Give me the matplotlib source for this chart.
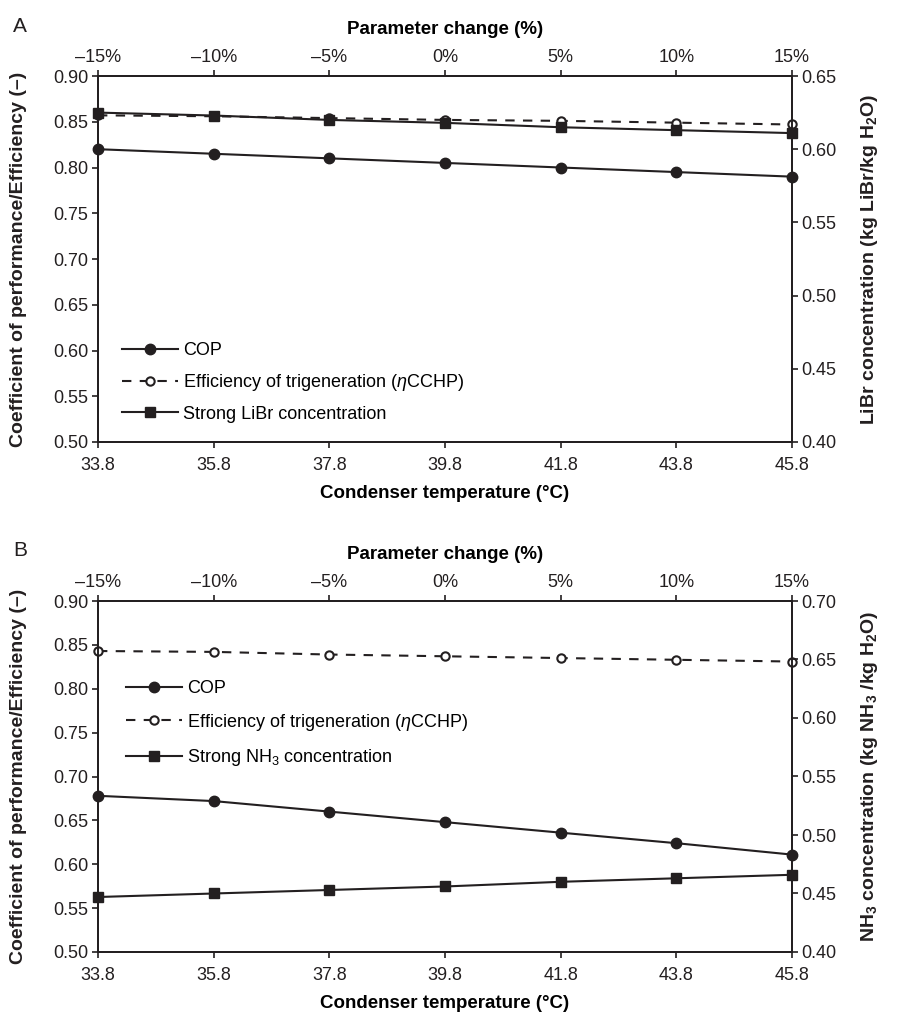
import matplotlib.pyplot as plt
import matplotlib as mpl
from matplotlib import font_manager

# --------------------------------------------------------------
# Data
# --------------------------------------------------------------

cond_temp = [33.8, 35.8, 37.8, 39.8, 41.8, 43.8, 45.8]
param_change = [-15, -10, -5, 0, 5, 10, 15]
param_labels = ["\u201315%", "\u201310%", "\u20135%", "0%", "5%", "10%", "15%"]

cop_a = [0.820, 0.815, 0.810, 0.805, 0.800, 0.795, 0.790]
eff_a = [0.857, 0.856, 0.854, 0.852, 0.851, 0.849, 0.847]
libr_a = [0.625, 0.623, 0.620, 0.618, 0.615, 0.613, 0.611]

cop_b = [0.678, 0.672, 0.660, 0.648, 0.636, 0.624, 0.611]
eff_b = [0.843, 0.842, 0.839, 0.837, 0.835, 0.833, 0.831]
nh3_b = [0.447, 0.450, 0.453, 0.456, 0.460, 0.463, 0.466]

# --------------------------------------------------------------
# Plot settings
# --------------------------------------------------------------

names = {f.name for f in font_manager.fontManager.ttflist}
narrow = "Liberation Sans Narrow" if "Liberation Sans Narrow" in names else "Liberation Sans"

mpl.rcParams["font.family"] = ["Liberation Sans", "DejaVu Sans"]
mpl.rcParams["mathtext.fontset"] = "custom"
mpl.rcParams["mathtext.rm"] = "Liberation Sans"
mpl.rcParams["mathtext.it"] = "Liberation Sans:italic"
mpl.rcParams["mathtext.bf"] = "Liberation Sans:bold"
mpl.rcParams["axes.linewidth"] = 1.2
mpl.rcParams["xtick.major.width"] = 1.2
mpl.rcParams["ytick.major.width"] = 1.2
mpl.rcParams["xtick.major.size"] = 4
mpl.rcParams["ytick.major.size"] = 4

ink = "#231f20"
W, H = 902, 1015
fig = plt.figure(figsize=(W / 100, H / 100), dpi=100)


def panel(top, bottom, letter, left_vals, eff_vals, right_vals, right_lim,
          right_ticks, right_label, strong_label, leg_anchor, leg_spacing):
    x0, x1 = 98, 792
    ax = fig.add_axes([x0 / W, (H - bottom) / H, (x1 - x0) / W, (bottom - top) / H])
    ax2 = ax.twinx()
    axt = ax.twiny()

    l1, = ax.plot(cond_temp, left_vals, color=ink, lw=1.5, marker="o", ms=7.5,
                  mfc=ink, mec=ink, label="COP", clip_on=False, zorder=3)
    l2, = ax.plot(cond_temp, eff_vals, color=ink, lw=1.5, ls=(0, (4.5, 4)),
                  marker="o", ms=6, mfc="white", mec=ink, mew=1.5,
                  label="Efficiency of trigeneration ($\\mathit{\\eta}$CCHP)",
                  clip_on=False, zorder=3)
    l3, = ax2.plot(cond_temp, right_vals, color=ink, lw=1.5, marker="s", ms=7.5,
                   mfc=ink, mec=ink, label=strong_label, clip_on=False, zorder=3)

    ax.set_xlim(33.8, 45.8)
    ax.set_xticks(cond_temp)
    ax.set_xticklabels([f"{v:.1f}" for v in cond_temp], family=narrow, fontsize=13)
    ax.set_ylim(0.50, 0.90)
    ax.set_yticks([0.50 + 0.05 * i for i in range(9)])
    ax.set_yticklabels([f"{0.50 + 0.05 * i:.2f}" for i in range(9)], fontsize=13)
    ax.set_xlabel("Condenser temperature (\u00b0C)", family=narrow,
                  fontweight="bold", fontsize=13.5, labelpad=8)

    ax2.set_ylim(*right_lim)
    ax2.set_yticks(right_ticks)
    ax2.set_yticklabels([f"{v:.2f}" for v in right_ticks], fontsize=13)

    axt.set_xlim(-15, 15)
    axt.set_xticks(param_change)
    axt.set_xticklabels(param_labels, family=narrow, fontsize=13)
    axt.set_xlabel("Parameter change (%)", family=narrow, fontweight="bold",
                   fontsize=13.5, labelpad=11)

    for a in (ax, ax2, axt):
        a.tick_params(direction="out", colors=ink, pad=3)
        for s in a.spines.values():
            s.set_color(ink)
    ax.tick_params(axis="x", pad=7)

    ax.text(-0.115, 0.5, "Coefficient of performance/Efficiency (\u2013)",
            transform=ax.transAxes, rotation=90, ha="center", va="center",
            fontweight="bold", fontsize=14, color=ink)
    ax.text(1.112, 0.5, right_label, transform=ax.transAxes, rotation=90,
            ha="center", va="center", fontweight="bold", fontsize=14, color=ink)
    fig.text(20 / W, 1 - (top - 50) / H, letter, family=narrow, fontsize=15,
             ha="center", va="center", color=ink)

    axt.legend(handles=[l1, l2, l3], loc="upper left", bbox_to_anchor=leg_anchor,
               frameon=False, fontsize=13, handlelength=3.1, handletextpad=0.3,
               borderpad=0, borderaxespad=0, labelspacing=leg_spacing)
    return ax


panel(76, 442, "A", cop_a, eff_a, libr_a, (0.40, 0.65),
      [0.40, 0.45, 0.50, 0.55, 0.60, 0.65],
      "LiBr concentration (kg LiBr/kg H$_\\mathbf{2}$O)",
      "Strong LiBr concentration", (0.034, 0.272), 0.7)

panel(601, 952, "B", cop_b, eff_b, nh3_b, (0.40, 0.70),
      [0.40, 0.45, 0.50, 0.55, 0.60, 0.65, 0.70],
      "NH$_\\mathbf{3}$ concentration (kg NH$_\\mathbf{3}$ /kg H$_\\mathbf{2}$O)",
      "Strong NH$_3$ concentration", (0.040, 0.774), 0.8)

plt.savefig("out.png", dpi=100)
